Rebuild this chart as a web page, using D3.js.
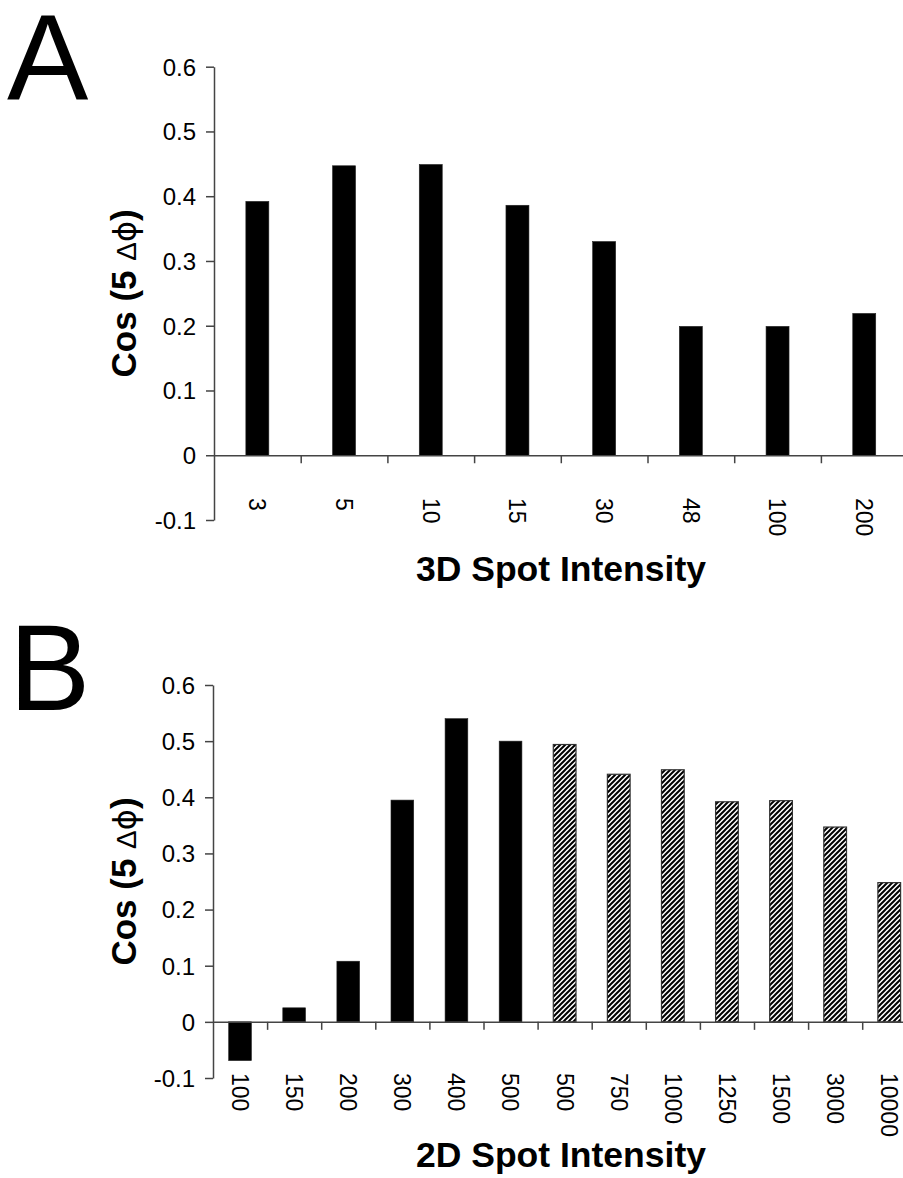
<!DOCTYPE html>
<html lang="en">
<head>
  <meta charset="UTF-8">
  <title>Cos (5 Δϕ) vs spot intensity</title>
  <script src="https://cdn.jsdelivr.net/npm/d3@7/dist/d3.min.js"></script>
  <style>
    body { margin: 0; background: #fff; }
    text { font-family: "Liberation Sans", Arial, Helvetica, sans-serif; fill: #000; }
  </style>
</head>
<body>
  <svg></svg>
  <script>
    // panel A: 3D spot intensity
    const catsA = ["3", "5", "10", "15", "30", "48", "100", "200"];
    const valsA = [0.392, 0.447, 0.449, 0.386, 0.33, 0.199, 0.199, 0.219];

    // panel B: 2D spot intensity (last 7 bars are hatched)
    const catsB = ["100", "150", "200", "300", "400", "500", "500", "750", "1000", "1250", "1500", "3000", "10000"];
    const valsB = [-0.069, 0.025, 0.108, 0.395, 0.540, 0.500, 0.494, 0.441, 0.449, 0.392, 0.394, 0.347, 0.248];
    const hatchB = [false, false, false, false, false, false, true, true, true, true, true, true, true];

    const yTicks = [-0.1, 0, 0.1, 0.2, 0.3, 0.4, 0.5, 0.6];

    const width = 903, height = 1178;
    const axisColor = "#444";

    const svg = d3.select("svg").attr("width", width).attr("height", height);

    // diagonal hatch ////
    const pat = svg.append("defs").append("pattern")
      .attr("id", "hatch")
      .attr("patternUnits", "userSpaceOnUse")
      .attr("width", 5).attr("height", 5);
    pat.append("rect").attr("width", 5).attr("height", 5).attr("fill", "#fff");
    pat.append("path")
      .attr("d", "M-1,1 l2,-2 M0,5 l5,-5 M4,6 l2,-2")
      .attr("stroke", "#000").attr("stroke-width", 2);

    function panel(opt) {
      const { cats, vals, hatch, x0, step, yTop, yBot, barFrac, labelY, letter, letterPos, title, titleY } = opt;
      const n = cats.length;
      const g = svg.append("g");

      const y = d3.scaleLinear().domain([-0.1, 0.6]).range([yBot, yTop]);
      const pad = 1 - barFrac;
      const x = d3.scaleBand()
        .domain(d3.range(n))
        .range([x0, x0 + n * step])
        .paddingInner(pad)
        .paddingOuter(pad / 2);

      // bars
      g.selectAll("rect.bar")
        .data(vals)
        .join("rect")
        .attr("class", "bar")
        .attr("x", (d, i) => x(i))
        .attr("width", x.bandwidth())
        .attr("y", d => y(Math.max(0, d)))
        .attr("height", d => Math.abs(y(d) - y(0)))
        .attr("fill", (d, i) => hatch && hatch[i] ? "url(#hatch)" : "#000")
        .attr("stroke", (d, i) => hatch && hatch[i] ? "#333" : "#222")
        .attr("stroke-width", (d, i) => hatch && hatch[i] ? 1.2 : 0.6);

      // y axis
      const yAxis = g.append("g")
        .attr("transform", `translate(${x0},0)`)
        .call(d3.axisLeft(y).tickValues(yTicks).tickSize(8).tickSizeOuter(0).tickPadding(10)
          .tickFormat(d => String(Math.round(d * 10) / 10)));
      yAxis.selectAll("text").style("font-size", "24px").attr("dy", "0.35em");

      // x axis at zero, ticks between categories
      const xb = d3.scaleLinear().domain([0, n]).range([x0, x0 + n * step]);
      g.append("g")
        .attr("transform", `translate(0,${y(0)})`)
        .call(d3.axisBottom(xb).tickValues(d3.range(1, n)).tickSize(8).tickSizeOuter(0).tickFormat(""));

      g.selectAll(".domain, .tick line")
        .attr("stroke", axisColor)
        .attr("stroke-width", 1.5);

      // category labels, rotated, at the bottom of the plot
      g.selectAll("text.cat")
        .data(cats)
        .join("text")
        .attr("class", "cat")
        .attr("transform", (d, i) => `translate(${x(i) + x.bandwidth() / 2},${labelY}) rotate(90)`)
        .attr("dy", "0.35em")
        .style("font-size", "23px")
        .text(d => d);

      // y title
      const mid = (yTop + yBot) / 2;
      const yt = g.append("text")
        .attr("transform", `translate(136,${mid}) rotate(-90)`)
        .attr("text-anchor", "middle")
        .style("font-size", "35px")
        .style("font-weight", "bold");
      yt.append("tspan").text("Cos (5 ");
      yt.append("tspan").style("font-weight", "normal").style("font-size", "28px").text("Δ");
      yt.append("tspan")
        .style("font-weight", "normal").style("font-size", "32px")
        .style("font-family", "'DejaVu Sans', sans-serif").text("ϕ");
      yt.append("tspan").text(")");

      // x title
      g.append("text")
        .attr("x", 561).attr("y", titleY)
        .attr("text-anchor", "middle")
        .style("font-size", "35.5px")
        .style("font-weight", "bold")
        .text(title);

      // panel letter
      g.append("text")
        .attr("x", letterPos[0]).attr("y", letterPos[1])
        .style("font-size", "122px")
        .text(letter);
    }

    panel({
      cats: catsA, vals: valsA, hatch: null,
      x0: 214, step: 86.7, yTop: 66.7, yBot: 520, barFrac: 0.265,
      labelY: 498, letter: "A", letterPos: [7, 100],
      title: "3D Spot Intensity", titleY: 581
    });

    panel({
      cats: catsB, vals: valsB, hatch: hatchB,
      x0: 213, step: 54.1, yTop: 685, yBot: 1078, barFrac: 0.42,
      labelY: 1073, letter: "B", letterPos: [9, 710],
      title: "2D Spot Intensity", titleY: 1167
    });
  </script>
</body>
</html>
